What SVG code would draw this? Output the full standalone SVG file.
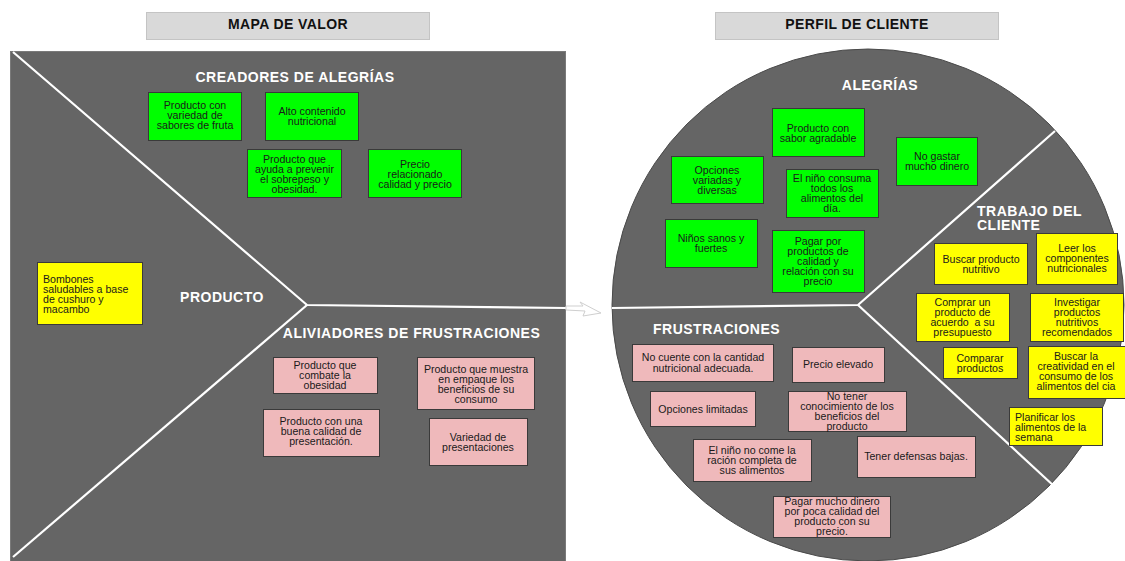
<svg xmlns="http://www.w3.org/2000/svg" width="1125" height="561" viewBox="0 0 1125 561">
<style>
.bg{fill:#656565;stroke:#7a7a7a;stroke-width:1}
.div{stroke:#ffffff;stroke-width:2.2;fill:none}
.title{fill:#d9d9d9;stroke:#c4c4c4;stroke-width:1}
.tt{font-family:"Liberation Sans",Arial,sans-serif;font-weight:bold;font-size:14px;fill:#111;text-anchor:middle;letter-spacing:0.4px}
.h{font-family:"Liberation Sans",Arial,sans-serif;font-weight:bold;font-size:14px;fill:#ffffff;letter-spacing:0.5px}
.hm{text-anchor:middle}
.g{fill:#00ff00;stroke:#3a3a3a;stroke-width:1}
.p{fill:#efb9bb;stroke:#3a3a3a;stroke-width:1}
.y{fill:#ffff00;stroke:#3a3a3a;stroke-width:1}
.t{font-family:"Liberation Sans",Arial,sans-serif;font-size:10.6px;fill:#1a1a1a;text-anchor:middle}
.tl{text-anchor:start}
</style>

<g id="titulo-mapa">
<rect class="title" x="146.5" y="12.5" width="283" height="27"/>
<text class="tt" x="288" y="28.5">MAPA DE VALOR</text>
</g>
<g id="titulo-perfil">
<rect class="title" x="715.5" y="12.5" width="283" height="27"/>
<text class="tt" x="857" y="28.5">PERFIL DE CLIENTE</text>
</g>

<g id="mapa-valor">
<rect class="bg" x="10.5" y="51.5" width="555" height="515"/>
</g>
<g id="perfil-cliente">
<circle class="bg" cx="868" cy="305" r="256" style="stroke:#4a4a4a"/>
</g>

<g id="connectors">
<path class="div" d="M13,52 L307,305 L566,308"/>
<path class="div" d="M307,305 L13,557"/>
<path class="div" d="M612,308 L858,305 L1055,131"/>
<path class="div" d="M858,305 L1055,487"/>
<polygon points="566,306 583,306 580,302 601,313 583,316 585,311 566,310" fill="#ffffff" stroke="#cfcfcf" stroke-width="1"/>
</g>

<g id="lbl-creadores"><text class="h hm" x="295" y="81.5">CREADORES DE ALEGRÍAS</text></g>
<g id="lbl-producto"><text class="h hm" x="222" y="302">PRODUCTO</text></g>
<g id="lbl-aliviadores"><text class="h hm" x="411.5" y="338">ALIVIADORES DE FRUSTRACIONES</text></g>
<g id="lbl-alegrias"><text class="h hm" x="880" y="90">ALEGRÍAS</text></g>
<g id="lbl-frustraciones"><text class="h" x="653" y="334">FRUSTRACIONES</text></g>
<g id="lbl-trabajo"><text class="h" x="977" y="216">TRABAJO DEL</text><text class="h" x="977" y="230">CLIENTE</text></g>

<!-- Creadores de alegrías -->
<g id="c1"><rect class="g" x="148.5" y="92.5" width="93" height="48"/>
<text class="t" x="195" y="108.7">Producto con</text><text class="t" x="195" y="118.7">variedad de</text><text class="t" x="195" y="128.7">sabores de fruta</text></g>
<g id="c2"><rect class="g" x="265.5" y="92.5" width="93" height="48"/>
<text class="t" x="312" y="115">Alto contenido</text><text class="t" x="312" y="125">nutricional</text></g>
<g id="c3"><rect class="g" x="247.5" y="149.5" width="94" height="48"/>
<text class="t" x="294.5" y="162.5">Producto que</text><text class="t" x="294.5" y="172.5">ayuda a prevenir</text><text class="t" x="294.5" y="182.5">el sobrepeso y</text><text class="t" x="294.5" y="192.5">obesidad.</text></g>
<g id="c4"><rect class="g" x="368.5" y="149.5" width="93" height="48"/>
<text class="t" x="415" y="167.5">Precio</text><text class="t" x="415" y="177.5">relacionado</text><text class="t" x="415" y="187.5">calidad y precio</text></g>

<!-- Producto -->
<g id="producto"><rect class="y" x="37.5" y="262.5" width="105" height="62"/>
<text class="t tl" x="43" y="282.5">Bombones</text><text class="t tl" x="43" y="292.5">saludables a base</text><text class="t tl" x="43" y="302.5">de cushuro y</text><text class="t tl" x="43" y="312.5">macambo</text></g>

<!-- Aliviadores -->
<g id="a1"><rect class="p" x="273.5" y="357.5" width="104" height="36"/>
<text class="t" x="325" y="368.5">Producto que</text><text class="t" x="325" y="378.5">combate la</text><text class="t" x="325" y="388.5">obesidad</text></g>
<g id="a2"><rect class="p" x="417.5" y="357.5" width="117" height="52"/>
<text class="t" x="476" y="372.8">Producto que muestra</text><text class="t" x="476" y="382.8">en empaque los</text><text class="t" x="476" y="392.8">beneficios de su</text><text class="t" x="476" y="402.8">consumo</text></g>
<g id="a3"><rect class="p" x="263.5" y="409.5" width="116" height="47"/>
<text class="t" x="321" y="425.3">Producto con una</text><text class="t" x="321" y="435.3">buena calidad de</text><text class="t" x="321" y="445.3">presentación.</text></g>
<g id="a4"><rect class="p" x="429.5" y="418.5" width="98" height="47"/>
<text class="t" x="478" y="441">Variedad de</text><text class="t" x="478" y="451">presentaciones</text></g>

<!-- Alegrías -->
<g id="al1"><rect class="g" x="772.5" y="108.5" width="92" height="48"/>
<text class="t" x="818" y="131.5">Producto con</text><text class="t" x="818" y="141.5">sabor agradable</text></g>
<g id="al2"><rect class="g" x="671.5" y="156.5" width="92" height="47"/>
<text class="t" x="717" y="173.5">Opciones</text><text class="t" x="717" y="183.5">variadas y</text><text class="t" x="717" y="193.5">diversas</text></g>
<g id="al3"><rect class="g" x="786.5" y="169.5" width="92" height="48"/>
<text class="t" x="832" y="182.3">El niño consuma</text><text class="t" x="832" y="192.3">todos los</text><text class="t" x="832" y="202.3">alimentos del</text><text class="t" x="832" y="212.3">día.</text></g>
<g id="al4"><rect class="g" x="665.5" y="219.5" width="92" height="48"/>
<text class="t" x="711" y="242">Niños sanos y</text><text class="t" x="711" y="252">fuertes</text></g>
<g id="al5"><rect class="g" x="772.5" y="230.5" width="92" height="62"/>
<text class="t" x="818" y="245">Pagar por</text><text class="t" x="818" y="255">productos de</text><text class="t" x="818" y="265">calidad y</text><text class="t" x="818" y="275">relación con su</text><text class="t" x="818" y="285">precio</text></g>
<g id="al6"><rect class="g" x="896.5" y="137.5" width="81" height="48"/>
<text class="t" x="937" y="160">No gastar</text><text class="t" x="937" y="170">mucho dinero</text></g>

<!-- Trabajo del cliente -->
<g id="tr1"><rect class="y" x="934.5" y="243.5" width="93" height="41"/>
<text class="t" x="981" y="263">Buscar producto</text><text class="t" x="981" y="273">nutritivo</text></g>
<g id="tr2"><rect class="y" x="1036.5" y="233.5" width="81" height="51"/>
<text class="t" x="1077" y="252">Leer los</text><text class="t" x="1077" y="262">componentes</text><text class="t" x="1077" y="272">nutricionales</text></g>
<g id="tr3"><rect class="y" x="916.5" y="293.5" width="93" height="48"/>
<text class="t" x="962.5" y="306">Comprar un</text><text class="t" x="962.5" y="316">producto de</text><text class="t" x="962.5" y="326" xml:space="preserve">acuerdo  a su</text><text class="t" x="962.5" y="336">presupuesto</text></g>
<g id="tr4"><rect class="y" x="1030.5" y="293.5" width="93" height="48"/>
<text class="t" x="1077" y="306">Investigar</text><text class="t" x="1077" y="316">productos</text><text class="t" x="1077" y="326">nutritivos</text><text class="t" x="1077" y="336">recomendados</text></g>
<g id="tr5"><rect class="y" x="943.5" y="347.5" width="74" height="31"/>
<text class="t" x="980" y="362">Comparar</text><text class="t" x="980" y="372">productos</text></g>
<g id="tr6"><rect class="y" x="1028.5" y="346.5" width="97" height="52"/>
<text class="t" x="1076" y="360">Buscar la</text><text class="t" x="1076" y="370">creatividad en el</text><text class="t" x="1076" y="380">consumo de los</text><text class="t" x="1076" y="390">alimentos del cia</text></g>
<g id="tr7"><rect class="y" x="1009.5" y="407.5" width="93" height="38"/>
<text class="t tl" x="1015" y="421">Planificar los</text><text class="t tl" x="1015" y="431">alimentos de la</text><text class="t tl" x="1015" y="441">semana</text></g>

<!-- Frustraciones -->
<g id="f1"><rect class="p" x="632.5" y="344.5" width="141" height="37"/>
<text class="t" x="703" y="361">No cuente con la cantidad</text><text class="t" x="703" y="371.5">nutricional adecuada.</text></g>
<g id="f2"><rect class="p" x="792.5" y="347.5" width="92" height="35"/>
<text class="t" x="838" y="367.5">Precio elevado</text></g>
<g id="f3"><rect class="p" x="650.5" y="391.5" width="105" height="35"/>
<text class="t" x="703" y="412.5">Opciones limitadas</text></g>
<g id="f4"><rect class="p" x="788.5" y="391.5" width="118" height="40"/>
<text class="t" x="847" y="399.5">No tener</text><text class="t" x="847" y="409.5">conocimiento de los</text><text class="t" x="847" y="419.5">beneficios del</text><text class="t" x="847" y="429.5">producto</text></g>
<g id="f5"><rect class="p" x="693.5" y="439.5" width="118" height="42"/>
<text class="t" x="752" y="453.5">El niño no come la</text><text class="t" x="752" y="463.5">ración completa de</text><text class="t" x="752" y="473.5">sus alimentos</text></g>
<g id="f6"><rect class="p" x="857.5" y="436.5" width="118" height="41"/>
<text class="t" x="916" y="460">Tener defensas bajas.</text></g>
<g id="f7"><rect class="p" x="773.5" y="496.5" width="117" height="41"/>
<text class="t" x="832" y="505">Pagar mucho dinero</text><text class="t" x="832" y="515">por poca calidad del</text><text class="t" x="832" y="525">producto con su</text><text class="t" x="832" y="535">precio.</text></g>
</svg>
